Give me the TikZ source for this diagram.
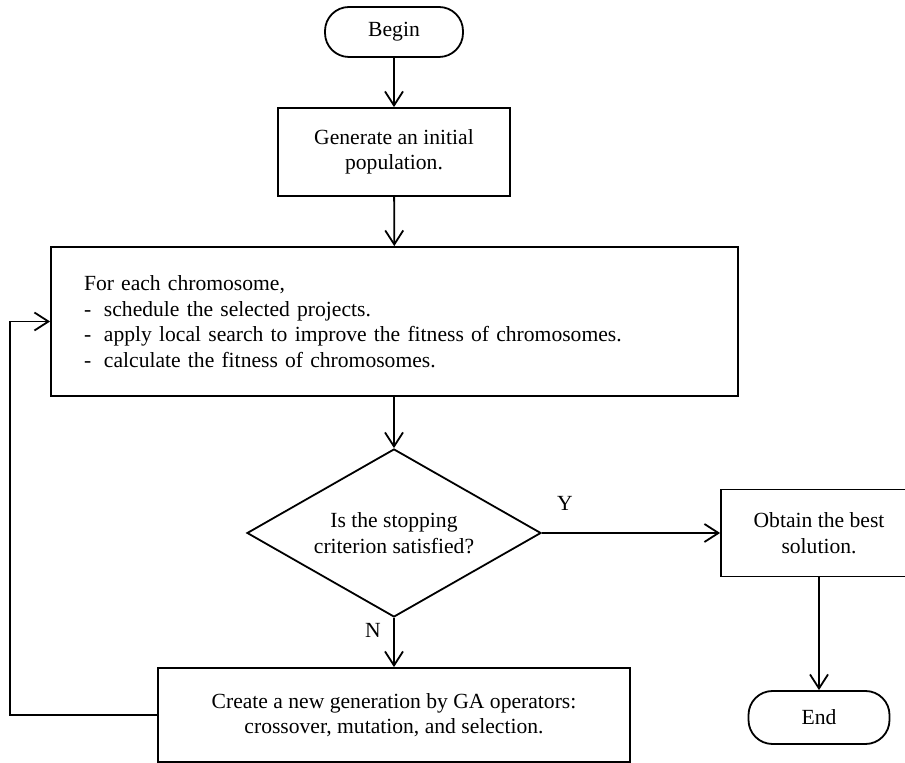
\documentclass[tikz,border=0pt]{standalone}
\usepackage{fontspec}
\setmainfont{Liberation Serif}
\usetikzlibrary{arrows.meta,shapes.geometric}
\newcommand{\itemdash}{\makebox[10pt][l]{-}}
\begin{document}
\begin{tikzpicture}[x=0.5pt,y=-0.5pt,line width=0.9pt,
        font=\fontsize{10.8}{12.8}\selectfont,
        >={Straight Barb[length=7pt,width=9pt]},
        box/.style={draw,rectangle,align=center,inner sep=0pt},
        terminal/.style={draw,rectangle,rounded corners=12pt,inner sep=0pt},
        decision/.style={draw,diamond,align=center,inner sep=0pt,aspect=1.75}]
        \useasboundingbox (0,0) rectangle (905,763);
    %Boxes
        \path node[terminal,minimum width=69pt,minimum height=25pt] (begin) at (394,32) {Begin};
        \path node[box,minimum width=116pt,minimum height=44pt] (generate) at (394,152) {Generate an initial\\population.};
        \path node[box,minimum width=343.5pt,minimum height=74.5pt,text width=310.5pt,inner xsep=16.5pt,align=left] (each) at (394.5,321.5)
            {For each chromosome,\\
             \itemdash schedule the selected projects.\\
             \itemdash apply local search to improve the fitness of chromosomes.\\
             \itemdash calculate the fitness of chromosomes.};
        \path node[decision,minimum width=147pt,minimum height=84pt] (stop) at (394,533) {Is the stopping\\criterion satisfied?};
        \path node[box,minimum width=98pt,minimum height=43.5pt] (best) at (819,533) {Obtain the best\\solution.};
        \path node[terminal,minimum width=70.5pt,minimum height=26.5pt] (end) at (819,717.5) {End};
        \path node[box,minimum width=236pt,minimum height=47pt] (create) at (394,715) {Create a new generation by GA operators:\\crossover, mutation, and selection.};
    %Labels
        \path node (yes) at (565,503) {Y};
        \path node (no) at (373,630) {N};
    %Arrows
        \draw[->] (begin) -- (generate);
        \draw[->] (generate) -- (each);
        \draw[->] (each.south -| stop.north) -- (stop.north);
        \draw[->] (stop.east) -- (best.west);
        \draw[->] (best) -- (end);
        \draw[->] (stop.south) -- (create.north);
        \coordinate (loop) at (10,715);
        \draw[->] (create.west) -- (loop) |- (each.west);
\end{tikzpicture}
\end{document}
